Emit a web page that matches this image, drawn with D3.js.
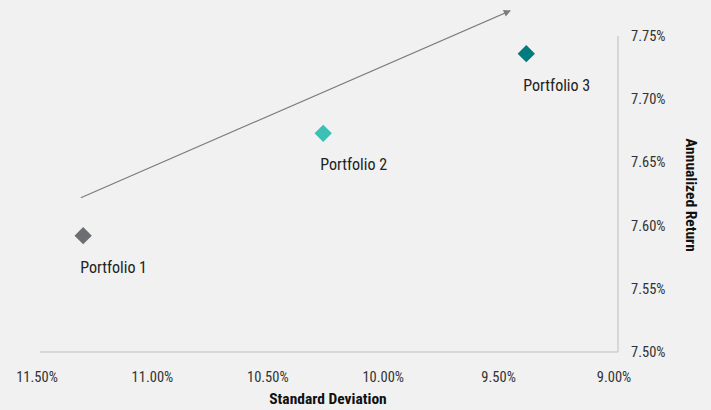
<!DOCTYPE html>
<html><head><meta charset="utf-8">
<script src="https://cdn.jsdelivr.net/npm/d3@7"></script>
<style>
html,body{margin:0;padding:0;background:#f0f1f0;}
svg{display:block;}
text{font-family:"Liberation Sans Narrow","Roboto Condensed","Arial Narrow",Roboto,sans-serif;}
</style></head>
<body>
<svg id="chart" width="711" height="410"></svg>
<script>
const portfolios = ["Portfolio 1", "Portfolio 2", "Portfolio 3"];
const stdDev = [11.30, 10.26, 9.38];
const annReturn = [7.592, 7.673, 7.736];
const colors = ["#6d6e71", "#3cbfb4", "#007b7f"];
const xTicks = [11.5, 11.0, 10.5, 10.0, 9.5, 9.0];
const yTicks = [7.50, 7.55, 7.60, 7.65, 7.70, 7.75];
const arrowX = [11.31, 9.45];
const arrowY = [7.622, 7.770];

const svg = d3.select("#chart");
const W = 711, H = 410;
svg.append("rect").attr("width", W).attr("height", H).attr("fill", "#f0f1f0");

const x = d3.scaleLinear().domain([11.5, 9.0]).range([37, 614]);
const y = d3.scaleLinear().domain([7.50, 7.75]).range([352, 36]);

// axis lines
svg.append("line").attr("x1", 40).attr("x2", 618).attr("y1", y(7.5)).attr("y2", y(7.5))
  .attr("stroke", "#b9c1be").attr("stroke-width", 1);
svg.append("line").attr("x1", 618).attr("x2", 618).attr("y1", y(7.75)).attr("y2", y(7.5))
  .attr("stroke", "#b9c1be").attr("stroke-width", 1);

// x tick labels
svg.append("g").selectAll("text").data(xTicks).join("text")
  .attr("x", d => x(d)).attr("y", 382)
  .attr("text-anchor", "middle").attr("font-size", 14.5).attr("fill", "#333")
  .text(d => d.toFixed(2) + "%");

// y tick labels
svg.append("g").selectAll("text").data(yTicks).join("text")
  .attr("x", 631).attr("y", d => y(d) + 5)
  .attr("text-anchor", "start").attr("font-size", 14.5).attr("fill", "#333")
  .text(d => d.toFixed(2) + "%");

// axis titles
svg.append("text").attr("x", 328).attr("y", 404).attr("text-anchor", "middle")
  .attr("font-size", 15.5).attr("font-weight", "bold").attr("fill", "#111")
  .text("Standard Deviation");
svg.append("text").attr("transform", "translate(686,195) rotate(90)").attr("text-anchor", "middle")
  .attr("font-size", 15.5).attr("font-weight", "bold").attr("fill", "#111")
  .text("Annualized Return");

// arrow
const defs = svg.append("defs");
defs.append("marker").attr("id", "arr").attr("viewBox", "0 0 10 10")
  .attr("refX", 9).attr("refY", 5).attr("markerWidth", 9).attr("markerHeight", 7)
  .attr("markerUnits", "userSpaceOnUse").attr("orient", "auto")
  .append("path").attr("d", "M0,0 L10,5 L0,10 Z").attr("fill", "#7a7b7d");
svg.append("line")
  .attr("x1", x(arrowX[0])).attr("y1", y(arrowY[0]))
  .attr("x2", x(arrowX[1])).attr("y2", y(arrowY[1]))
  .attr("stroke", "#7a7b7d").attr("stroke-width", 1.2).attr("marker-end", "url(#arr)");

// points
const data = portfolios.map((p, i) => ({name: p, sd: stdDev[i], r: annReturn[i], c: colors[i]}));
const sym = d3.symbol().type(d3.symbolSquare).size(150);
svg.append("g").selectAll("path").data(data).join("path")
  .attr("d", sym)
  .attr("transform", d => `translate(${x(d.sd)},${y(d.r)}) rotate(45)`)
  .attr("fill", d => d.c);
svg.append("g").selectAll("text").data(data).join("text")
  .attr("x", d => x(d.sd) - 3).attr("y", d => y(d.r) + 37)
  .attr("font-size", 16).attr("fill", "#222")
  .text(d => d.name);
</script>
</body></html>
